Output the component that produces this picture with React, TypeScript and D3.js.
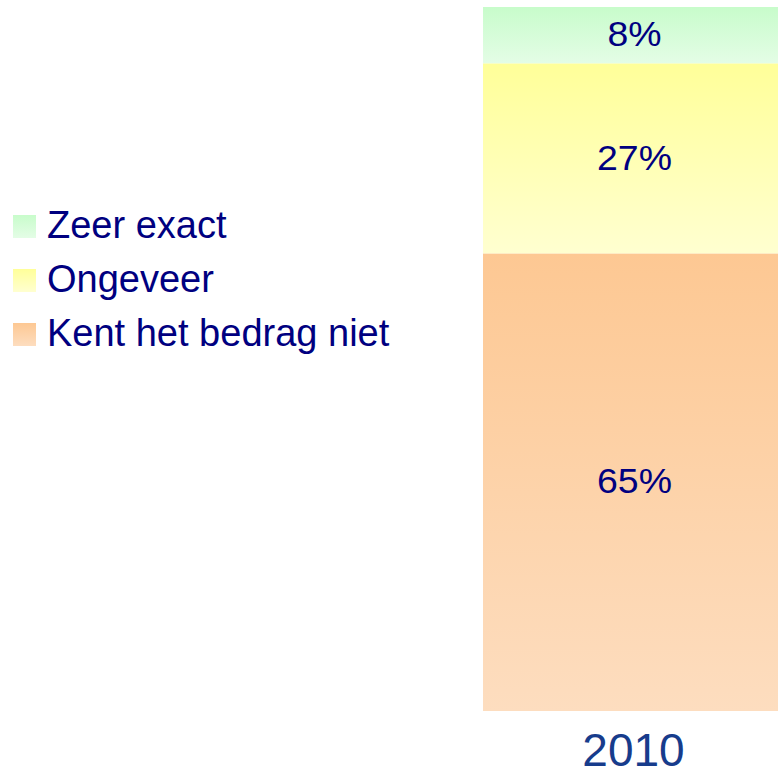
import React, { useEffect, useRef } from 'react';
import * as d3 from 'd3';

// data
const years = ['2010'];
const categories = ['Kent het bedrag niet', 'Ongeveer', 'Zeer exact'];
const values2010 = [65, 27, 8];
const legendOrder = ['Zeer exact', 'Ongeveer', 'Kent het bedrag niet'];

// gradient colours per category (top, bottom)
const gradients: Record<string, [string, string]> = {
  'Zeer exact': ['#C8FCCB', '#E4FDE6'],
  'Ongeveer': ['#FFFF99', '#FFFFD0'],
  'Kent het bedrag niet': ['#FDC893', '#FDDDBF'],
};

const FONT = 'Liberation Sans, Arial, sans-serif';

const App = () => {
  const svgRef = useRef<SVGSVGElement>(null);

  useEffect(() => {
    const svg = d3.select(svgRef.current);
    svg.selectAll('*').remove();

    const defs = svg.append('defs');
    categories.forEach((c, i) => {
      const lg = defs.append('linearGradient')
        .attr('id', 'grad' + i)
        .attr('x1', 0).attr('y1', 0).attr('x2', 0).attr('y2', 1);
      lg.append('stop').attr('offset', '0%').attr('stop-color', gradients[c][0]);
      lg.append('stop').attr('offset', '100%').attr('stop-color', gradients[c][1]);
    });

    const x = d3.scaleBand().domain(years).range([483, 786]).padding(0);
    const y = d3.scaleLinear().domain([0, 100]).range([711, 7]);

    // stacked bar
    const rows = [Object.fromEntries(categories.map((c, i) => [c, values2010[i]]))];
    const stack = d3.stack<any>().keys(categories)(rows);

    const g = svg.append('g');
    stack.forEach((layer, i) => {
      const d = layer[0];
      g.append('rect')
        .attr('x', x('2010')!)
        .attr('width', x.bandwidth())
        .attr('y', y(d[1]))
        .attr('height', y(d[0]) - y(d[1]))
        .attr('fill', `url(#grad${i})`);
      const cx = x('2010')! + x.bandwidth() / 2;
      const cy = (y(d[0]) + y(d[1])) / 2;
      // labels are slightly wider than tall in the original
      g.append('text')
        .attr('transform', `translate(${cx},${cy}) scale(1.07,1)`)
        .attr('dy', '0.32em')
        .attr('text-anchor', 'middle')
        .attr('font-family', FONT)
        .attr('font-size', 35)
        .attr('fill', '#000080')
        .text(values2010[i] + '%');
    });

    // category label
    svg.append('text')
      .attr('x', x('2010')! + x.bandwidth() / 2 - 1)
      .attr('y', 766)
      .attr('text-anchor', 'middle')
      .attr('font-family', FONT)
      .attr('font-size', 46)
      .attr('fill', '#173C8C')
      .text('2010');

    // legend
    const legend = svg.append('g');
    legendOrder.forEach((c, i) => {
      const idx = categories.indexOf(c);
      const yy = 215 + i * 54;
      legend.append('rect')
        .attr('x', 13).attr('y', yy)
        .attr('width', 23).attr('height', 23)
        .attr('fill', `url(#grad${idx})`);
      legend.append('text')
        .attr('x', 47)
        .attr('y', yy + 23)
        .attr('font-family', FONT)
        .attr('font-size', 38)
        .attr('fill', '#000080')
        .text(c);
    });
  }, []);

  return (
    <svg
      ref={svgRef}
      width={778}
      height={772}
      style={{ position: 'absolute', left: 0, top: 0, background: '#fff' }}
    />
  );
};

export default App;
